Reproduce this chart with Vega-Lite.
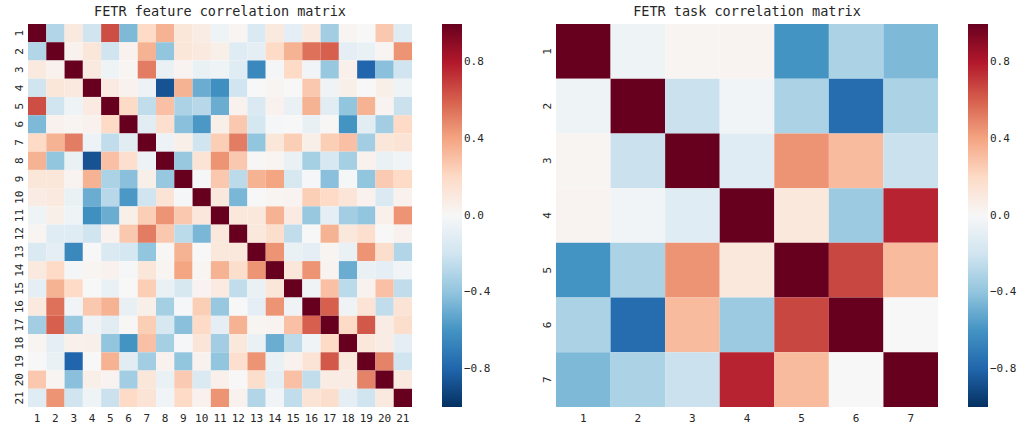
{
"$schema": "https://vega.github.io/schema/vega-lite/v6.json",
"background": "white",
"padding": {"left": 13, "top": 4, "right": 5, "bottom": 0},
"config": {
  "font": "DejaVu Sans Mono",
  "view": {"stroke": null},
  "axis": {"domain": false, "ticks": false, "grid": false, "labelFont": "DejaVu Sans Mono", "labelFontSize": 11, "labelColor": "#262626", "title": null},
  "axisX": {"labelAngle": 0, "labelPadding": 5},
  "axisY": {"labelAngle": -90, "labelPadding": 4},
  "title": {"font": "DejaVu Sans Mono", "fontSize": 13.5, "fontWeight": "normal", "color": "#262626", "offset": 6, "frame": "group", "anchor": "middle"},
  "legend": {"title": null, "gradientLength": 383, "gradientThickness": 20, "offset": 30, "padding": 0, "labelFont": "DejaVu Sans Mono", "labelFontSize": 11, "labelColor": "#262626", "labelOffset": 8, "gradientStrokeWidth": 0, "direction": "vertical"},
  "concat": {"spacing": 50}
},
"datasets": {
"feat": [
{"r":1,"c":1,"v":1},{"r":1,"c":2,"v":-0.3},{"r":1,"c":3,"v":0.1},{"r":1,"c":4,"v":-0.2},{"r":1,"c":5,"v":0.65},{"r":1,"c":6,"v":-0.45},{"r":1,"c":7,"v":0.2},{"r":1,"c":8,"v":0.35},{"r":1,"c":9,"v":0.12},{"r":1,"c":10,"v":0.08},{"r":1,"c":11,"v":-0.05},{"r":1,"c":12,"v":0.02},{"r":1,"c":13,"v":-0.15},{"r":1,"c":14,"v":0.1},{"r":1,"c":15,"v":-0.1},{"r":1,"c":16,"v":0.1},{"r":1,"c":17,"v":-0.35},{"r":1,"c":18,"v":0.02},{"r":1,"c":19,"v":0.0},{"r":1,"c":20,"v":0.27},{"r":1,"c":21,"v":-0.12},
{"r":2,"c":1,"v":-0.3},{"r":2,"c":2,"v":1},{"r":2,"c":3,"v":0.04},{"r":2,"c":4,"v":0.12},{"r":2,"c":5,"v":-0.2},{"r":2,"c":6,"v":0.04},{"r":2,"c":7,"v":0.35},{"r":2,"c":8,"v":-0.4},{"r":2,"c":9,"v":0.12},{"r":2,"c":10,"v":0.1},{"r":2,"c":11,"v":0.06},{"r":2,"c":12,"v":-0.12},{"r":2,"c":13,"v":-0.1},{"r":2,"c":14,"v":0.2},{"r":2,"c":15,"v":0.35},{"r":2,"c":16,"v":0.55},{"r":2,"c":17,"v":0.6},{"r":2,"c":18,"v":-0.1},{"r":2,"c":19,"v":-0.07},{"r":2,"c":20,"v":0.02},{"r":2,"c":21,"v":0.45},
{"r":3,"c":1,"v":0.1},{"r":3,"c":2,"v":0.04},{"r":3,"c":3,"v":1},{"r":3,"c":4,"v":0.1},{"r":3,"c":5,"v":-0.05},{"r":3,"c":6,"v":0.02},{"r":3,"c":7,"v":0.52},{"r":3,"c":8,"v":-0.07},{"r":3,"c":9,"v":0.03},{"r":3,"c":10,"v":-0.07},{"r":3,"c":11,"v":-0.05},{"r":3,"c":12,"v":-0.12},{"r":3,"c":13,"v":-0.65},{"r":3,"c":14,"v":-0.02},{"r":3,"c":15,"v":0.2},{"r":3,"c":16,"v":-0.03},{"r":3,"c":17,"v":-0.38},{"r":3,"c":18,"v":0.05},{"r":3,"c":19,"v":-0.8},{"r":3,"c":20,"v":-0.42},{"r":3,"c":21,"v":-0.2},
{"r":4,"c":1,"v":-0.2},{"r":4,"c":2,"v":0.12},{"r":4,"c":3,"v":0.1},{"r":4,"c":4,"v":1},{"r":4,"c":5,"v":0.09},{"r":4,"c":6,"v":0.04},{"r":4,"c":7,"v":-0.06},{"r":4,"c":8,"v":-0.87},{"r":4,"c":9,"v":0.35},{"r":4,"c":10,"v":-0.5},{"r":4,"c":11,"v":-0.62},{"r":4,"c":12,"v":-0.2},{"r":4,"c":13,"v":0.0},{"r":4,"c":14,"v":0.02},{"r":4,"c":15,"v":0.0},{"r":4,"c":16,"v":0.27},{"r":4,"c":17,"v":-0.04},{"r":4,"c":18,"v":0.06},{"r":4,"c":19,"v":0.0},{"r":4,"c":20,"v":0.06},{"r":4,"c":21,"v":-0.05},
{"r":5,"c":1,"v":0.65},{"r":5,"c":2,"v":-0.2},{"r":5,"c":3,"v":-0.05},{"r":5,"c":4,"v":0.09},{"r":5,"c":5,"v":1},{"r":5,"c":6,"v":0.2},{"r":5,"c":7,"v":-0.25},{"r":5,"c":8,"v":0.3},{"r":5,"c":9,"v":-0.32},{"r":5,"c":10,"v":-0.28},{"r":5,"c":11,"v":-0.5},{"r":5,"c":12,"v":0.04},{"r":5,"c":13,"v":-0.15},{"r":5,"c":14,"v":0.04},{"r":5,"c":15,"v":-0.07},{"r":5,"c":16,"v":0.35},{"r":5,"c":17,"v":-0.11},{"r":5,"c":18,"v":-0.4},{"r":5,"c":19,"v":0.35},{"r":5,"c":20,"v":0.03},{"r":5,"c":21,"v":-0.22},
{"r":6,"c":1,"v":-0.45},{"r":6,"c":2,"v":0.04},{"r":6,"c":3,"v":0.02},{"r":6,"c":4,"v":0.04},{"r":6,"c":5,"v":0.2},{"r":6,"c":6,"v":1},{"r":6,"c":7,"v":-0.11},{"r":6,"c":8,"v":0.17},{"r":6,"c":9,"v":-0.42},{"r":6,"c":10,"v":-0.58},{"r":6,"c":11,"v":0.06},{"r":6,"c":12,"v":0.27},{"r":6,"c":13,"v":-0.18},{"r":6,"c":14,"v":-0.01},{"r":6,"c":15,"v":0.0},{"r":6,"c":16,"v":-0.08},{"r":6,"c":17,"v":0.01},{"r":6,"c":18,"v":-0.6},{"r":6,"c":19,"v":-0.11},{"r":6,"c":20,"v":-0.35},{"r":6,"c":21,"v":0.2},
{"r":7,"c":1,"v":0.2},{"r":7,"c":2,"v":0.35},{"r":7,"c":3,"v":0.52},{"r":7,"c":4,"v":-0.06},{"r":7,"c":5,"v":-0.25},{"r":7,"c":6,"v":-0.11},{"r":7,"c":7,"v":1},{"r":7,"c":8,"v":-0.06},{"r":7,"c":9,"v":0.06},{"r":7,"c":10,"v":-0.2},{"r":7,"c":11,"v":0.25},{"r":7,"c":12,"v":0.52},{"r":7,"c":13,"v":-0.4},{"r":7,"c":14,"v":0.12},{"r":7,"c":15,"v":0.25},{"r":7,"c":16,"v":0.06},{"r":7,"c":17,"v":0.25},{"r":7,"c":18,"v":0.3},{"r":7,"c":19,"v":-0.35},{"r":7,"c":20,"v":0.12},{"r":7,"c":21,"v":0.14},
{"r":8,"c":1,"v":0.35},{"r":8,"c":2,"v":-0.4},{"r":8,"c":3,"v":-0.07},{"r":8,"c":4,"v":-0.87},{"r":8,"c":5,"v":0.3},{"r":8,"c":6,"v":0.17},{"r":8,"c":7,"v":-0.06},{"r":8,"c":8,"v":1},{"r":8,"c":9,"v":-0.38},{"r":8,"c":10,"v":0.14},{"r":8,"c":11,"v":0.45},{"r":8,"c":12,"v":0.27},{"r":8,"c":13,"v":0.01},{"r":8,"c":14,"v":0.02},{"r":8,"c":15,"v":-0.07},{"r":8,"c":16,"v":-0.34},{"r":8,"c":17,"v":-0.17},{"r":8,"c":18,"v":-0.34},{"r":8,"c":19,"v":0.04},{"r":8,"c":20,"v":-0.07},{"r":8,"c":21,"v":-0.03},
{"r":9,"c":1,"v":0.12},{"r":9,"c":2,"v":0.12},{"r":9,"c":3,"v":0.03},{"r":9,"c":4,"v":0.35},{"r":9,"c":5,"v":-0.32},{"r":9,"c":6,"v":-0.42},{"r":9,"c":7,"v":0.06},{"r":9,"c":8,"v":-0.38},{"r":9,"c":9,"v":1},{"r":9,"c":10,"v":-0.01},{"r":9,"c":11,"v":0.27},{"r":9,"c":12,"v":-0.27},{"r":9,"c":13,"v":0.35},{"r":9,"c":14,"v":0.4},{"r":9,"c":15,"v":-0.17},{"r":9,"c":16,"v":-0.01},{"r":9,"c":17,"v":-0.42},{"r":9,"c":18,"v":-0.01},{"r":9,"c":19,"v":-0.4},{"r":9,"c":20,"v":0.26},{"r":9,"c":21,"v":0.2},
{"r":10,"c":1,"v":0.08},{"r":10,"c":2,"v":0.1},{"r":10,"c":3,"v":-0.07},{"r":10,"c":4,"v":-0.5},{"r":10,"c":5,"v":-0.28},{"r":10,"c":6,"v":-0.58},{"r":10,"c":7,"v":-0.2},{"r":10,"c":8,"v":0.14},{"r":10,"c":9,"v":-0.01},{"r":10,"c":10,"v":1},{"r":10,"c":11,"v":0.11},{"r":10,"c":12,"v":-0.46},{"r":10,"c":13,"v":0.0},{"r":10,"c":14,"v":0.02},{"r":10,"c":15,"v":0.03},{"r":10,"c":16,"v":0.25},{"r":10,"c":17,"v":0.2},{"r":10,"c":18,"v":0.13},{"r":10,"c":19,"v":0.04},{"r":10,"c":20,"v":-0.15},{"r":10,"c":21,"v":0.04},
{"r":11,"c":1,"v":-0.05},{"r":11,"c":2,"v":0.06},{"r":11,"c":3,"v":-0.05},{"r":11,"c":4,"v":-0.62},{"r":11,"c":5,"v":-0.5},{"r":11,"c":6,"v":0.06},{"r":11,"c":7,"v":0.25},{"r":11,"c":8,"v":0.45},{"r":11,"c":9,"v":0.27},{"r":11,"c":10,"v":0.11},{"r":11,"c":11,"v":1},{"r":11,"c":12,"v":0.11},{"r":11,"c":13,"v":0.11},{"r":11,"c":14,"v":0.35},{"r":11,"c":15,"v":0.09},{"r":11,"c":16,"v":-0.38},{"r":11,"c":17,"v":-0.1},{"r":11,"c":18,"v":-0.35},{"r":11,"c":19,"v":-0.4},{"r":11,"c":20,"v":0.05},{"r":11,"c":21,"v":0.45},
{"r":12,"c":1,"v":0.02},{"r":12,"c":2,"v":-0.12},{"r":12,"c":3,"v":-0.12},{"r":12,"c":4,"v":-0.2},{"r":12,"c":5,"v":0.04},{"r":12,"c":6,"v":0.27},{"r":12,"c":7,"v":0.52},{"r":12,"c":8,"v":0.27},{"r":12,"c":9,"v":-0.27},{"r":12,"c":10,"v":-0.46},{"r":12,"c":11,"v":0.11},{"r":12,"c":12,"v":1},{"r":12,"c":13,"v":0.11},{"r":12,"c":14,"v":0.18},{"r":12,"c":15,"v":-0.25},{"r":12,"c":16,"v":0.0},{"r":12,"c":17,"v":0.35},{"r":12,"c":18,"v":0.11},{"r":12,"c":19,"v":0.17},{"r":12,"c":20,"v":0.0},{"r":12,"c":21,"v":0.04},
{"r":13,"c":1,"v":-0.15},{"r":13,"c":2,"v":-0.1},{"r":13,"c":3,"v":-0.65},{"r":13,"c":4,"v":0.0},{"r":13,"c":5,"v":-0.15},{"r":13,"c":6,"v":-0.18},{"r":13,"c":7,"v":-0.4},{"r":13,"c":8,"v":0.01},{"r":13,"c":9,"v":0.35},{"r":13,"c":10,"v":0.0},{"r":13,"c":11,"v":0.11},{"r":13,"c":12,"v":0.11},{"r":13,"c":13,"v":1},{"r":13,"c":14,"v":0.45},{"r":13,"c":15,"v":-0.07},{"r":13,"c":16,"v":-0.1},{"r":13,"c":17,"v":0.02},{"r":13,"c":18,"v":-0.07},{"r":13,"c":19,"v":0.45},{"r":13,"c":20,"v":0.18},{"r":13,"c":21,"v":-0.3},
{"r":14,"c":1,"v":0.1},{"r":14,"c":2,"v":0.2},{"r":14,"c":3,"v":-0.02},{"r":14,"c":4,"v":0.02},{"r":14,"c":5,"v":0.04},{"r":14,"c":6,"v":-0.01},{"r":14,"c":7,"v":0.12},{"r":14,"c":8,"v":0.02},{"r":14,"c":9,"v":0.4},{"r":14,"c":10,"v":0.02},{"r":14,"c":11,"v":0.35},{"r":14,"c":12,"v":0.18},{"r":14,"c":13,"v":0.45},{"r":14,"c":14,"v":1},{"r":14,"c":15,"v":0.12},{"r":14,"c":16,"v":0.45},{"r":14,"c":17,"v":0.03},{"r":14,"c":18,"v":-0.5},{"r":14,"c":19,"v":-0.07},{"r":14,"c":20,"v":-0.1},{"r":14,"c":21,"v":-0.03},
{"r":15,"c":1,"v":-0.1},{"r":15,"c":2,"v":0.35},{"r":15,"c":3,"v":0.2},{"r":15,"c":4,"v":0.0},{"r":15,"c":5,"v":-0.07},{"r":15,"c":6,"v":0.0},{"r":15,"c":7,"v":0.25},{"r":15,"c":8,"v":-0.07},{"r":15,"c":9,"v":-0.17},{"r":15,"c":10,"v":0.03},{"r":15,"c":11,"v":0.09},{"r":15,"c":12,"v":-0.25},{"r":15,"c":13,"v":-0.07},{"r":15,"c":14,"v":0.12},{"r":15,"c":15,"v":1},{"r":15,"c":16,"v":-0.04},{"r":15,"c":17,"v":0.3},{"r":15,"c":18,"v":-0.27},{"r":15,"c":19,"v":0.04},{"r":15,"c":20,"v":0.3},{"r":15,"c":21,"v":-0.25},
{"r":16,"c":1,"v":0.1},{"r":16,"c":2,"v":0.55},{"r":16,"c":3,"v":-0.03},{"r":16,"c":4,"v":0.27},{"r":16,"c":5,"v":0.35},{"r":16,"c":6,"v":-0.08},{"r":16,"c":7,"v":0.06},{"r":16,"c":8,"v":-0.34},{"r":16,"c":9,"v":-0.01},{"r":16,"c":10,"v":0.25},{"r":16,"c":11,"v":-0.38},{"r":16,"c":12,"v":0.0},{"r":16,"c":13,"v":-0.1},{"r":16,"c":14,"v":0.45},{"r":16,"c":15,"v":-0.04},{"r":16,"c":16,"v":1},{"r":16,"c":17,"v":0.6},{"r":16,"c":18,"v":-0.04},{"r":16,"c":19,"v":0.14},{"r":16,"c":20,"v":-0.25},{"r":16,"c":21,"v":0.14},
{"r":17,"c":1,"v":-0.35},{"r":17,"c":2,"v":0.6},{"r":17,"c":3,"v":-0.38},{"r":17,"c":4,"v":-0.04},{"r":17,"c":5,"v":-0.11},{"r":17,"c":6,"v":0.01},{"r":17,"c":7,"v":0.25},{"r":17,"c":8,"v":-0.17},{"r":17,"c":9,"v":-0.42},{"r":17,"c":10,"v":0.2},{"r":17,"c":11,"v":-0.1},{"r":17,"c":12,"v":0.35},{"r":17,"c":13,"v":0.02},{"r":17,"c":14,"v":0.03},{"r":17,"c":15,"v":0.3},{"r":17,"c":16,"v":0.6},{"r":17,"c":17,"v":1},{"r":17,"c":18,"v":0.2},{"r":17,"c":19,"v":0.62},{"r":17,"c":20,"v":0.08},{"r":17,"c":21,"v":0.18},
{"r":18,"c":1,"v":0.02},{"r":18,"c":2,"v":-0.1},{"r":18,"c":3,"v":0.05},{"r":18,"c":4,"v":0.06},{"r":18,"c":5,"v":-0.4},{"r":18,"c":6,"v":-0.6},{"r":18,"c":7,"v":0.3},{"r":18,"c":8,"v":-0.34},{"r":18,"c":9,"v":-0.01},{"r":18,"c":10,"v":0.13},{"r":18,"c":11,"v":-0.35},{"r":18,"c":12,"v":0.11},{"r":18,"c":13,"v":-0.07},{"r":18,"c":14,"v":-0.5},{"r":18,"c":15,"v":-0.27},{"r":18,"c":16,"v":-0.04},{"r":18,"c":17,"v":0.2},{"r":18,"c":18,"v":1},{"r":18,"c":19,"v":0.11},{"r":18,"c":20,"v":0.08},{"r":18,"c":21,"v":-0.1},
{"r":19,"c":1,"v":0.0},{"r":19,"c":2,"v":-0.07},{"r":19,"c":3,"v":-0.8},{"r":19,"c":4,"v":0.0},{"r":19,"c":5,"v":0.35},{"r":19,"c":6,"v":-0.11},{"r":19,"c":7,"v":-0.35},{"r":19,"c":8,"v":0.04},{"r":19,"c":9,"v":-0.4},{"r":19,"c":10,"v":0.04},{"r":19,"c":11,"v":-0.4},{"r":19,"c":12,"v":0.17},{"r":19,"c":13,"v":0.45},{"r":19,"c":14,"v":-0.07},{"r":19,"c":15,"v":0.04},{"r":19,"c":16,"v":0.14},{"r":19,"c":17,"v":0.62},{"r":19,"c":18,"v":0.11},{"r":19,"c":19,"v":1},{"r":19,"c":20,"v":0.5},{"r":19,"c":21,"v":-0.2},
{"r":20,"c":1,"v":0.27},{"r":20,"c":2,"v":0.02},{"r":20,"c":3,"v":-0.42},{"r":20,"c":4,"v":0.06},{"r":20,"c":5,"v":0.03},{"r":20,"c":6,"v":-0.35},{"r":20,"c":7,"v":0.12},{"r":20,"c":8,"v":-0.07},{"r":20,"c":9,"v":0.26},{"r":20,"c":10,"v":-0.15},{"r":20,"c":11,"v":0.05},{"r":20,"c":12,"v":0.0},{"r":20,"c":13,"v":0.18},{"r":20,"c":14,"v":-0.1},{"r":20,"c":15,"v":0.3},{"r":20,"c":16,"v":-0.25},{"r":20,"c":17,"v":0.08},{"r":20,"c":18,"v":0.08},{"r":20,"c":19,"v":0.5},{"r":20,"c":20,"v":1},{"r":20,"c":21,"v":0.1},
{"r":21,"c":1,"v":-0.12},{"r":21,"c":2,"v":0.45},{"r":21,"c":3,"v":-0.2},{"r":21,"c":4,"v":-0.05},{"r":21,"c":5,"v":-0.22},{"r":21,"c":6,"v":0.2},{"r":21,"c":7,"v":0.14},{"r":21,"c":8,"v":-0.03},{"r":21,"c":9,"v":0.2},{"r":21,"c":10,"v":0.04},{"r":21,"c":11,"v":0.45},{"r":21,"c":12,"v":0.04},{"r":21,"c":13,"v":-0.3},{"r":21,"c":14,"v":-0.03},{"r":21,"c":15,"v":-0.25},{"r":21,"c":16,"v":0.14},{"r":21,"c":17,"v":0.18},{"r":21,"c":18,"v":-0.1},{"r":21,"c":19,"v":-0.2},{"r":21,"c":20,"v":0.1},{"r":21,"c":21,"v":1}
],
"task": [
{"r":1,"c":1,"v":1},{"r":1,"c":2,"v":-0.05},{"r":1,"c":3,"v":0.02},{"r":1,"c":4,"v":0.03},{"r":1,"c":5,"v":-0.6},{"r":1,"c":6,"v":-0.32},{"r":1,"c":7,"v":-0.45},
{"r":2,"c":1,"v":-0.05},{"r":2,"c":2,"v":1},{"r":2,"c":3,"v":-0.22},{"r":2,"c":4,"v":-0.03},{"r":2,"c":5,"v":-0.32},{"r":2,"c":6,"v":-0.77},{"r":2,"c":7,"v":-0.32},
{"r":3,"c":1,"v":0.02},{"r":3,"c":2,"v":-0.22},{"r":3,"c":3,"v":1},{"r":3,"c":4,"v":-0.12},{"r":3,"c":5,"v":0.45},{"r":3,"c":6,"v":0.32},{"r":3,"c":7,"v":-0.22},
{"r":4,"c":1,"v":0.03},{"r":4,"c":2,"v":-0.03},{"r":4,"c":3,"v":-0.12},{"r":4,"c":4,"v":1},{"r":4,"c":5,"v":0.11},{"r":4,"c":6,"v":-0.37},{"r":4,"c":7,"v":0.77},
{"r":5,"c":1,"v":-0.6},{"r":5,"c":2,"v":-0.32},{"r":5,"c":3,"v":0.45},{"r":5,"c":4,"v":0.11},{"r":5,"c":5,"v":1},{"r":5,"c":6,"v":0.67},{"r":5,"c":7,"v":0.32},
{"r":6,"c":1,"v":-0.32},{"r":6,"c":2,"v":-0.77},{"r":6,"c":3,"v":0.32},{"r":6,"c":4,"v":-0.37},{"r":6,"c":5,"v":0.67},{"r":6,"c":6,"v":1},{"r":6,"c":7,"v":0.0},
{"r":7,"c":1,"v":-0.45},{"r":7,"c":2,"v":-0.32},{"r":7,"c":3,"v":-0.22},{"r":7,"c":4,"v":0.77},{"r":7,"c":5,"v":0.32},{"r":7,"c":6,"v":0.0},{"r":7,"c":7,"v":1}
]
},
"hconcat": [
  {
    "title": "FETR feature correlation matrix",
    "width": 384, "height": 383,
    "data": {"name": "feat"},
    "mark": {"type": "rect", "strokeWidth": 0},
    "encoding": {
      "x": {"field": "c", "type": "ordinal", "scale": {"paddingInner": 0, "paddingOuter": 0}},
      "y": {"field": "r", "type": "ordinal", "scale": {"paddingInner": 0, "paddingOuter": 0}},
      "color": {"field": "v", "type": "quantitative",
        "scale": {"domain": [-1,-0.8,-0.6,-0.4,-0.2,0,0.2,0.4,0.6,0.8,1], "range": ["#053061","#2166ac","#4393c3","#92c5de","#d1e5f0","#f7f7f7","#fddbc7","#f4a582","#d6604d","#b2182b","#67001f"], "interpolate": "rgb"},
        "legend": {"values": [0.8,0.4,0,-0.4,-0.8], "format": ".1f"}}
    }
  },
  {
    "title": "FETR task correlation matrix",
    "width": 382, "height": 383,
    "data": {"name": "task"},
    "mark": {"type": "rect", "strokeWidth": 0},
    "encoding": {
      "x": {"field": "c", "type": "ordinal", "scale": {"paddingInner": 0, "paddingOuter": 0}},
      "y": {"field": "r", "type": "ordinal", "scale": {"paddingInner": 0, "paddingOuter": 0}},
      "color": {"field": "v", "type": "quantitative",
        "scale": {"domain": [-1,-0.8,-0.6,-0.4,-0.2,0,0.2,0.4,0.6,0.8,1], "range": ["#053061","#2166ac","#4393c3","#92c5de","#d1e5f0","#f7f7f7","#fddbc7","#f4a582","#d6604d","#b2182b","#67001f"], "interpolate": "rgb"},
        "legend": {"values": [0.8,0.4,0,-0.4,-0.8], "format": ".1f"}}
    }
  }
],
"resolve": {"scale": {"color": "independent"}, "legend": {"color": "independent"}}
}
